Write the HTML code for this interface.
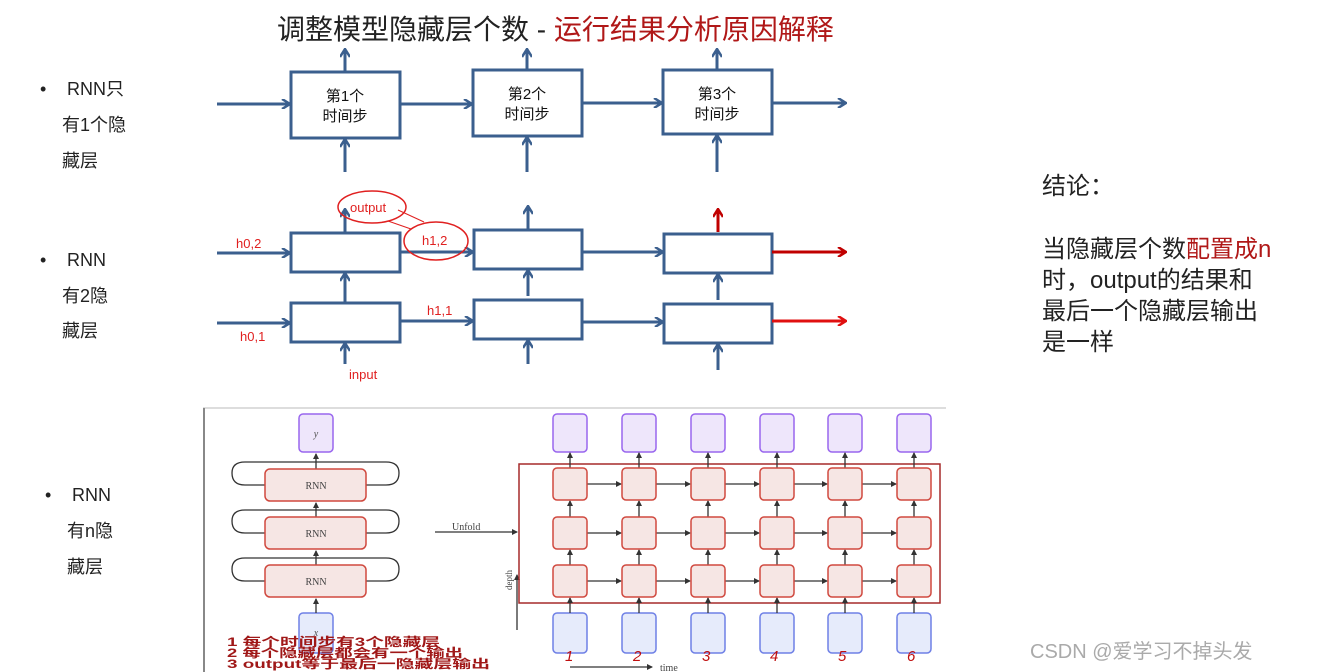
<!DOCTYPE html>
<html><head><meta charset="utf-8"><style>
body{margin:0;width:1329px;height:672px;background:#fff;overflow:hidden;font-family:"Liberation Sans","Noto Sans CJK SC",sans-serif}
</style></head><body>
<svg width="1329" height="672" style="position:absolute;left:0;top:0" font-family="Liberation Sans, Noto Sans CJK SC, sans-serif">
<defs>
<marker id="a" markerWidth="10" markerHeight="10" refX="8" refY="5" orient="auto" markerUnits="userSpaceOnUse"><path d="M1,0 L9,5 L1,10" fill="none" stroke="#3b5f8e" stroke-width="2.5"/></marker>
<marker id="r" markerWidth="10" markerHeight="10" refX="8" refY="5" orient="auto" markerUnits="userSpaceOnUse"><path d="M1,0 L9,5 L1,10" fill="none" stroke="#c00000" stroke-width="2.5"/></marker>
<marker id="rr" markerWidth="10" markerHeight="10" refX="8" refY="5" orient="auto" markerUnits="userSpaceOnUse"><path d="M1,0 L9,5 L1,10" fill="none" stroke="#e01010" stroke-width="2.5"/></marker>
<marker id="k" markerWidth="6" markerHeight="6" refX="5" refY="3" orient="auto" markerUnits="userSpaceOnUse"><path d="M0,0 L6,3 L0,6z" fill="#333"/></marker>
</defs>
<text x="277" y="39" font-size="28" fill="#222">调整模型隐藏层个数 - <tspan fill="#b01818">运行结果分析原因解释</tspan></text>

<g font-size="18" fill="#222">
<text x="40" y="95">•</text><text x="67" y="95">RNN只</text><text x="62" y="131">有1个隐</text><text x="62" y="167">藏层</text>
<text x="40" y="266">•</text><text x="67" y="266">RNN</text><text x="62" y="302">有2隐</text><text x="62" y="337">藏层</text>
<text x="45" y="501">•</text><text x="72" y="501">RNN</text><text x="67" y="537">有n隐</text><text x="67" y="573">藏层</text>
</g>
<g font-size="24" fill="#222">
<text x="1042" y="194">结论：</text>
<text x="1042" y="257">当隐藏层个数<tspan fill="#b01818">配置成n</tspan></text>
<text x="1042" y="288">时，output的结果和</text>
<text x="1042" y="319">最后一个隐藏层输出</text>
<text x="1042" y="350">是一样</text>
</g>
<text x="1030" y="658" font-size="20" fill="#aaa">CSDN @爱学习不掉头发</text>

<g stroke="#3b5f8e" stroke-width="3" fill="none">
<rect x="291" y="72" width="109" height="66"/><rect x="473" y="70" width="109" height="66"/><rect x="663" y="70" width="109" height="64"/>
<line x1="217" y1="104" x2="289" y2="104" marker-end="url(#a)"/>
<line x1="400" y1="104" x2="471" y2="104" marker-end="url(#a)"/>
<line x1="582" y1="103" x2="661" y2="103" marker-end="url(#a)"/>
<line x1="772" y1="103" x2="845" y2="103" marker-end="url(#a)"/>
<line x1="345" y1="72" x2="345" y2="50" marker-end="url(#a)"/><line x1="527" y1="70" x2="527" y2="50" marker-end="url(#a)"/><line x1="717" y1="70" x2="717" y2="50" marker-end="url(#a)"/>
<line x1="345" y1="172" x2="345" y2="140" marker-end="url(#a)"/><line x1="527" y1="172" x2="527" y2="138" marker-end="url(#a)"/><line x1="717" y1="172" x2="717" y2="136" marker-end="url(#a)"/>
<rect x="291" y="233" width="109" height="39"/><rect x="474" y="230" width="108" height="39"/><rect x="664" y="234" width="108" height="39"/>
<rect x="291" y="303" width="109" height="39"/><rect x="474" y="300" width="108" height="39"/><rect x="664" y="304" width="108" height="39"/>
<line x1="217" y1="253" x2="289" y2="253" marker-end="url(#a)"/><line x1="400" y1="252" x2="472" y2="252" marker-end="url(#a)"/><line x1="582" y1="252" x2="662" y2="252" marker-end="url(#a)"/>
<line x1="217" y1="323" x2="289" y2="323" marker-end="url(#a)"/><line x1="400" y1="321" x2="472" y2="321" marker-end="url(#a)"/><line x1="582" y1="322" x2="662" y2="322" marker-end="url(#a)"/>
<line x1="345" y1="233" x2="345" y2="210" marker-end="url(#a)"/><line x1="528" y1="230" x2="528" y2="207" marker-end="url(#a)"/>
<line x1="345" y1="303" x2="345" y2="274" marker-end="url(#a)"/><line x1="528" y1="296" x2="528" y2="271" marker-end="url(#a)"/><line x1="718" y1="300" x2="718" y2="275" marker-end="url(#a)"/>
<line x1="345" y1="364" x2="345" y2="344" marker-end="url(#a)"/><line x1="528" y1="364" x2="528" y2="341" marker-end="url(#a)"/><line x1="718" y1="370" x2="718" y2="345" marker-end="url(#a)"/>
</g>
<line x1="718" y1="232" x2="718" y2="210" stroke="#c00000" stroke-width="3" marker-end="url(#r)"/>
<line x1="772" y1="252" x2="845" y2="252" stroke="#c00000" stroke-width="3" marker-end="url(#r)"/>
<line x1="772" y1="321" x2="845" y2="321" stroke="#e01010" stroke-width="3" marker-end="url(#rr)"/>
<g font-size="15" fill="#111" text-anchor="middle"><text x="345" y="101">第1个</text><text x="345" y="121">时间步</text><text x="527" y="99">第2个</text><text x="527" y="119">时间步</text><text x="717" y="99">第3个</text><text x="717" y="119">时间步</text></g>
<ellipse cx="372" cy="207" rx="34" ry="16" fill="none" stroke="#e02020" stroke-width="1.5"/>
<ellipse cx="436" cy="241" rx="32" ry="19" fill="none" stroke="#e02020" stroke-width="1.5"/>
<path d="M398 210 L424 222 M388 221 L411 229" stroke="#e02020" stroke-width="1" fill="none"/>
<g font-size="13" fill="#e02020">
<text x="350" y="212">output</text><text x="422" y="245">h1,2</text><text x="236" y="248">h0,2</text>
<text x="240" y="341">h0,1</text><text x="427" y="315">h1,1</text><text x="349" y="379">input</text>
</g>

<line x1="203" y1="408" x2="946" y2="408" stroke="#ddd" stroke-width="2"/>
<line x1="204" y1="408" x2="204" y2="672" stroke="#888" stroke-width="2"/>

<g fill="#eee6fb" stroke="#9966ee" stroke-width="1.5">
<rect x="299" y="414" width="34" height="38" rx="4"/>
<rect x="553" y="414" width="34" height="38" rx="4"/><rect x="622" y="414" width="34" height="38" rx="4"/><rect x="691" y="414" width="34" height="38" rx="4"/><rect x="760" y="414" width="34" height="38" rx="4"/><rect x="828" y="414" width="34" height="38" rx="4"/><rect x="897" y="414" width="34" height="38" rx="4"/>
</g>
<g fill="#e6ebfb" stroke="#6f80e6" stroke-width="1.5">
<rect x="299" y="613" width="34" height="40" rx="4"/>
<rect x="553" y="613" width="34" height="40" rx="4"/><rect x="622" y="613" width="34" height="40" rx="4"/><rect x="691" y="613" width="34" height="40" rx="4"/><rect x="760" y="613" width="34" height="40" rx="4"/><rect x="828" y="613" width="34" height="40" rx="4"/><rect x="897" y="613" width="34" height="40" rx="4"/>
</g>
<text x="316" y="437" font-size="10" font-style="italic" fill="#555" text-anchor="middle" font-family="Liberation Serif, serif">y</text>
<text x="316" y="636" font-size="10" font-style="italic" fill="#555" text-anchor="middle" font-family="Liberation Serif, serif">x</text>

<g stroke="#333" stroke-width="1.3" fill="none">
<path d="M265 485 H245 Q232 485 232 473 Q232 462 245 462 H386 Q399 462 399 473 Q399 485 386 485 H366"/>
<path d="M265 533 H245 Q232 533 232 521 Q232 510 245 510 H386 Q399 510 399 521 Q399 533 386 533 H366"/>
<path d="M265 581 H245 Q232 581 232 569 Q232 558 245 558 H386 Q399 558 399 569 Q399 581 386 581 H366"/>
<line x1="316" y1="469" x2="316" y2="454" marker-end="url(#k)"/>
<line x1="316" y1="517" x2="316" y2="503" marker-end="url(#k)"/>
<line x1="316" y1="565" x2="316" y2="551" marker-end="url(#k)"/>
<line x1="316" y1="613" x2="316" y2="599" marker-end="url(#k)"/>
<line x1="435" y1="532" x2="517" y2="532" marker-end="url(#k)"/>
<line x1="517" y1="630" x2="517" y2="575" marker-end="url(#k)"/>
<line x1="570" y1="667" x2="652" y2="667" marker-end="url(#k)"/>
</g>
<g fill="#f6e6e4" stroke="#d0493f" stroke-width="1.5">
<rect x="265" y="469" width="101" height="32" rx="5"/><rect x="265" y="517" width="101" height="32" rx="5"/><rect x="265" y="565" width="101" height="32" rx="5"/>
</g>
<g font-size="10" fill="#444" text-anchor="middle" font-family="Liberation Serif, serif"><text x="316" y="489">RNN</text><text x="316" y="537">RNN</text><text x="316" y="585">RNN</text></g>
<text x="452" y="530" font-size="10" fill="#444" font-family="Liberation Serif, serif">Unfold</text>
<text x="660" y="671" font-size="10" fill="#444" font-family="Liberation Serif, serif">time</text>
<rect x="519" y="464" width="421" height="139" fill="none" stroke="#a52a2a" stroke-width="1.5"/>

<g stroke="#333" stroke-width="1.3" marker-end="url(#k)">
<line x1="570" y1="468" x2="570" y2="453"/><line x1="639" y1="468" x2="639" y2="453"/><line x1="708" y1="468" x2="708" y2="453"/><line x1="777" y1="468" x2="777" y2="453"/><line x1="845" y1="468" x2="845" y2="453"/><line x1="914" y1="468" x2="914" y2="453"/>
<line x1="570" y1="517" x2="570" y2="501"/><line x1="639" y1="517" x2="639" y2="501"/><line x1="708" y1="517" x2="708" y2="501"/><line x1="777" y1="517" x2="777" y2="501"/><line x1="845" y1="517" x2="845" y2="501"/><line x1="914" y1="517" x2="914" y2="501"/>
<line x1="570" y1="565" x2="570" y2="550"/><line x1="639" y1="565" x2="639" y2="550"/><line x1="708" y1="565" x2="708" y2="550"/><line x1="777" y1="565" x2="777" y2="550"/><line x1="845" y1="565" x2="845" y2="550"/><line x1="914" y1="565" x2="914" y2="550"/>
<line x1="570" y1="613" x2="570" y2="598"/><line x1="639" y1="613" x2="639" y2="598"/><line x1="708" y1="613" x2="708" y2="598"/><line x1="777" y1="613" x2="777" y2="598"/><line x1="845" y1="613" x2="845" y2="598"/><line x1="914" y1="613" x2="914" y2="598"/>
<line x1="587" y1="484" x2="621" y2="484"/><line x1="656" y1="484" x2="690" y2="484"/><line x1="725" y1="484" x2="759" y2="484"/><line x1="794" y1="484" x2="827" y2="484"/><line x1="862" y1="484" x2="896" y2="484"/>
<line x1="587" y1="533" x2="621" y2="533"/><line x1="656" y1="533" x2="690" y2="533"/><line x1="725" y1="533" x2="759" y2="533"/><line x1="794" y1="533" x2="827" y2="533"/><line x1="862" y1="533" x2="896" y2="533"/>
<line x1="587" y1="581" x2="621" y2="581"/><line x1="656" y1="581" x2="690" y2="581"/><line x1="725" y1="581" x2="759" y2="581"/><line x1="794" y1="581" x2="827" y2="581"/><line x1="862" y1="581" x2="896" y2="581"/>
</g>
<g fill="#f6e6e4" stroke="#d0493f" stroke-width="1.5">
<rect x="553" y="468" width="34" height="32" rx="4"/><rect x="622" y="468" width="34" height="32" rx="4"/><rect x="691" y="468" width="34" height="32" rx="4"/><rect x="760" y="468" width="34" height="32" rx="4"/><rect x="828" y="468" width="34" height="32" rx="4"/><rect x="897" y="468" width="34" height="32" rx="4"/>
<rect x="553" y="517" width="34" height="32" rx="4"/><rect x="622" y="517" width="34" height="32" rx="4"/><rect x="691" y="517" width="34" height="32" rx="4"/><rect x="760" y="517" width="34" height="32" rx="4"/><rect x="828" y="517" width="34" height="32" rx="4"/><rect x="897" y="517" width="34" height="32" rx="4"/>
<rect x="553" y="565" width="34" height="32" rx="4"/><rect x="622" y="565" width="34" height="32" rx="4"/><rect x="691" y="565" width="34" height="32" rx="4"/><rect x="760" y="565" width="34" height="32" rx="4"/><rect x="828" y="565" width="34" height="32" rx="4"/><rect x="897" y="565" width="34" height="32" rx="4"/>
</g>
<text x="512" y="590" font-size="9" fill="#444" transform="rotate(-90 512 590)" font-family="Liberation Serif, serif">depth</text>
<g font-size="15" fill="#c01010" font-style="italic"><text x="565" y="661">1</text><text x="633" y="661">2</text><text x="702" y="661">3</text><text x="770" y="661">4</text><text x="838" y="661">5</text><text x="907" y="661">6</text></g>
<g font-size="12" font-weight="bold" fill="#a01818">
<text x="227" y="646" textLength="213" lengthAdjust="spacingAndGlyphs">1 每个时间步有3个隐藏层</text>
<text x="227" y="657" textLength="236" lengthAdjust="spacingAndGlyphs">2 每个隐藏层都会有一个输出</text>
<text x="227" y="668" textLength="263" lengthAdjust="spacingAndGlyphs">3 output等于最后一隐藏层输出</text>
</g>
</svg>
</body></html>
